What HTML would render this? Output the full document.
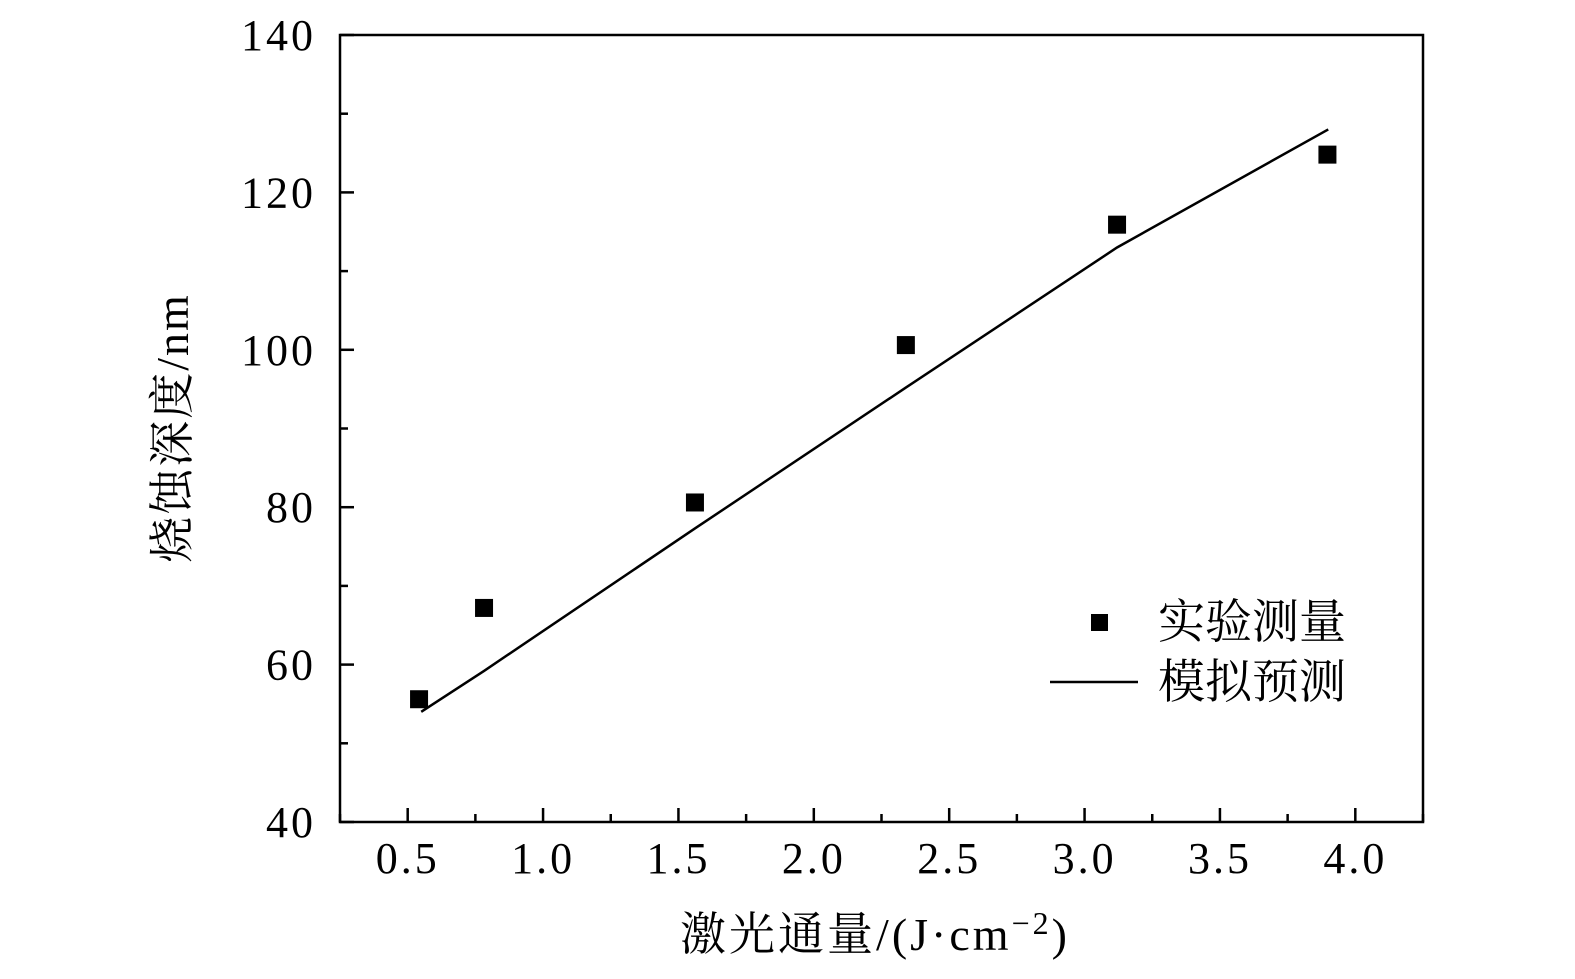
<!DOCTYPE html>
<html><head><meta charset="utf-8"><style>
html,body{margin:0;padding:0;background:#fff}
svg text{font-family:"Liberation Serif","Noto Serif CJK SC",serif;fill:#000}
</style></head><body>
<svg width="1575" height="974" viewBox="0 0 1575 974">
<g id="axes"></g><g id="marks"></g>
<rect x="340" y="35" width="1083" height="787" fill="none" stroke="#000" stroke-width="2.5"/>
<text transform="translate(188,428) rotate(-90)" text-anchor="middle" font-size="46" letter-spacing="2">烧蚀深度/nm</text>
<text x="875" y="950" text-anchor="middle" font-size="46" letter-spacing="3">激光通量/(J·cm<tspan dy="-16" font-size="32">−2</tspan><tspan dy="16">)</tspan></text>
<g>
<rect x="1091" y="614" width="17" height="17" fill="#000"/>
<text x="1158" y="638" font-size="47">实验测量</text>
<line x1="1050" y1="682" x2="1138" y2="682" stroke="#000" stroke-width="2.5"/>
<text x="1158" y="698" font-size="47">模拟预测</text>
</g>
</svg>
<script>
const xTicks=[0.5,1.0,1.5,2.0,2.5,3.0,3.5,4.0];
const xTickLabels=["0.5","1.0","1.5","2.0","2.5","3.0","3.5","4.0"];
const yTicks=[40,60,80,100,120,140];
const yTickLabels=["40","60","80","100","120","140"];
const measX=[0.542,0.782,1.561,2.340,3.120,3.897];
const measY=[55.6,67.2,80.6,100.6,115.9,124.8];
const predX=[0.55,0.782,1.561,2.340,3.120,3.900];
const predY=[54.0,59.2,77.3,95.2,113.0,128.0];
const NS="http://www.w3.org/2000/svg";
const X0=340,X1=1423,Y0=822,Y1=35;
const sx=v=>X0+(v-0.25)/(4.25-0.25)*(X1-X0);
const sy=v=>Y0-(v-40)/(140-40)*(Y0-Y1);
const axes=document.getElementById('axes'),marks=document.getElementById('marks');
function mk(t,a,p){const e=document.createElementNS(NS,t);for(const k in a)e.setAttribute(k,a[k]);p.appendChild(e);return e;}
for(let v=0.25;v<=4.251;v+=0.25){
 const major=Math.abs(v*2-Math.round(v*2))<1e-6;
 const l=mk('line',{x1:sx(v),x2:sx(v),y1:Y0,y2:Y0-(major?14:8),stroke:'#000','stroke-width':2.5},axes);
 
 
}
xTicks.forEach((v,i)=>{const t=mk('text',{x:sx(v),y:873,'text-anchor':'middle','font-size':44,'letter-spacing':3},axes);t.textContent=xTickLabels[i];
 
 });
for(let v=40;v<=140;v+=10){
 const major=v%20===0;
 const l=mk('line',{x1:X0,x2:X0+(major?14:8),y1:sy(v),y2:sy(v),stroke:'#000','stroke-width':2.5},axes);
 
 
}
yTicks.forEach((v,i)=>{const t=mk('text',{x:316,y:sy(v)+15,'text-anchor':'end','font-size':44,'letter-spacing':3},axes);t.textContent=yTickLabels[i];
 
 });
const pl=mk('polyline',{points:predX.map((x,i)=>sx(x)+','+sy(predY[i])).join(' '),fill:'none',stroke:'#000','stroke-width':2.5},marks);


measX.forEach((x,i)=>{const r=mk('rect',{x:sx(x)-9,y:sy(measY[i])-9,width:18,height:18,fill:'#000'},marks);
 
 });
</script>
</body></html>
